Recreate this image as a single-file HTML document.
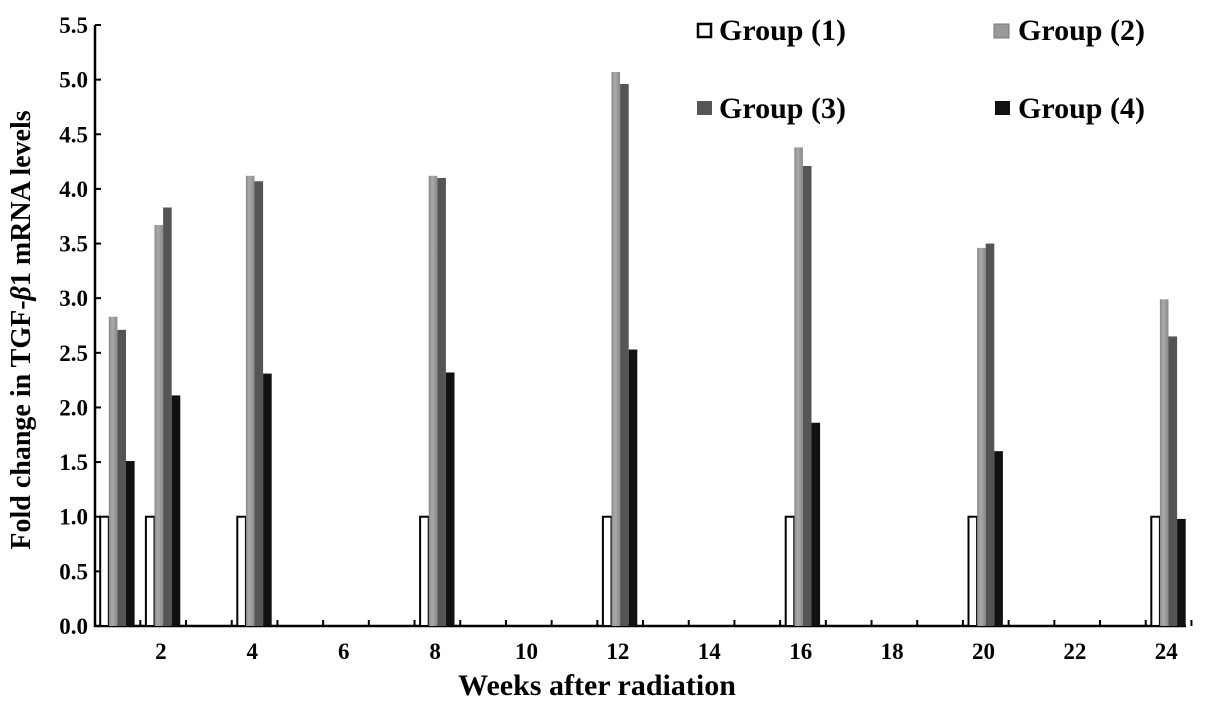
<!DOCTYPE html>
<html><head><meta charset="utf-8"><style>
html,body{margin:0;padding:0;background:#fff;}
svg{display:block;font-family:"Liberation Serif",serif;font-weight:bold;}
</style></head><body>
<svg id="chart" width="1205" height="709" viewBox="0 0 1205 709">
<defs>
<linearGradient id="g2" x1="0" x2="1" y1="0" y2="0"><stop offset="0" stop-color="#888"/><stop offset="0.4" stop-color="#aaa"/><stop offset="1" stop-color="#8a8a8a"/></linearGradient>
</defs>
<g id="axes"></g>
<g id="bars"></g>
<text x="30" y="330" transform="rotate(-90 30 330)" text-anchor="middle" font-size="28">Fold change in TGF-<tspan font-style="italic">β</tspan>1 mRNA levels</text>
<text x="597" y="695" text-anchor="middle" font-size="30">Weeks after radiation</text>
<g>
<g><rect x="698" y="24" width="13" height="13" fill="#fff" stroke="#000" stroke-width="2.5"/><text x="719" y="40" font-size="30">Group (1)</text></g>
<g><rect x="994" y="24" width="15" height="14" fill="#999" stroke="#777" stroke-width="1"/><text x="1018" y="40" font-size="30">Group (2)</text></g>
<g><rect x="697" y="101" width="15" height="14" fill="#555"/><text x="719" y="118" font-size="30">Group (3)</text></g>
<g><rect x="995" y="101" width="15" height="14" fill="#111"/><text x="1018" y="118" font-size="30">Group (4)</text></g>
</g>
</svg>
<script>
const weeks=[1,2,4,8,12,16,20,24];
const group1=[1,1,1,1,1,1,1,1];
const group2=[2.83,3.67,4.12,4.12,5.07,4.38,3.46,2.99];
const group3=[2.71,3.83,4.07,4.10,4.96,4.21,3.50,2.65];
const group4=[1.51,2.11,2.31,2.32,2.53,1.86,1.60,0.98];
const xTickLabels=[2,4,6,8,10,12,14,16,18,20,22,24];
const yTicks=[0,0.5,1,1.5,2,2.5,3,3.5,4,4.5,5,5.5];
const NS="http://www.w3.org/2000/svg";
const x0=95,x1=1186,y0=626,yTop=25;
function xs(w){return 69.5+45.7*w;}
function ys(v){return y0-(y0-yTop)*v/5.5;}
const ax=document.getElementById('axes'),bg=document.getElementById('bars');
function mk(tag,at,parent){const e=document.createElementNS(NS,tag);for(const k in at)e.setAttribute(k,at[k]);parent.appendChild(e);return e;}
let l=mk('path',{d:`M${x0} ${yTop}V${y0}H${x1}`,fill:'none',stroke:'#000','stroke-width':2.5},ax);


yTicks.forEach(v=>{
 const y=ys(v);
 mk('line',{x1:x0,x2:x0+6,y1:y,y2:y,stroke:'#000','stroke-width':2},ax);
 const t=mk('text',{x:88,y:y+8,'text-anchor':'end','font-size':23},ax);
 t.textContent=v.toFixed(1);
 
 
});
for(let w=1.55;w<24.6;w+=1){
 const x=xs(w);
 mk('line',{x1:x,x2:x,y1:y0,y2:y0-6,stroke:'#000','stroke-width':2},ax);
}
xTickLabels.forEach(w=>{
 const t=mk('text',{x:xs(w),y:y0+33,'text-anchor':'middle','font-size':23},ax);
 t.textContent=w;
 
 
});
const series=[[group1,'#fff','group-1'],[group2,'url(#g2)','group-2'],[group3,'#555','group-3'],[group4,'#111','group-4']];
const bw=8.6;
weeks.forEach((w,i)=>{
 series.forEach((s,j)=>{
  const x=xs(w)-15+j*bw, y=ys(s[0][i]);
  const r=mk('rect',{x:x,y:y,width:bw,height:y0-y,fill:s[1]},bg);
  if(j===0){r.setAttribute('stroke','#000');r.setAttribute('stroke-width','2');}
  
  
 });
});
</script>
</body></html>
